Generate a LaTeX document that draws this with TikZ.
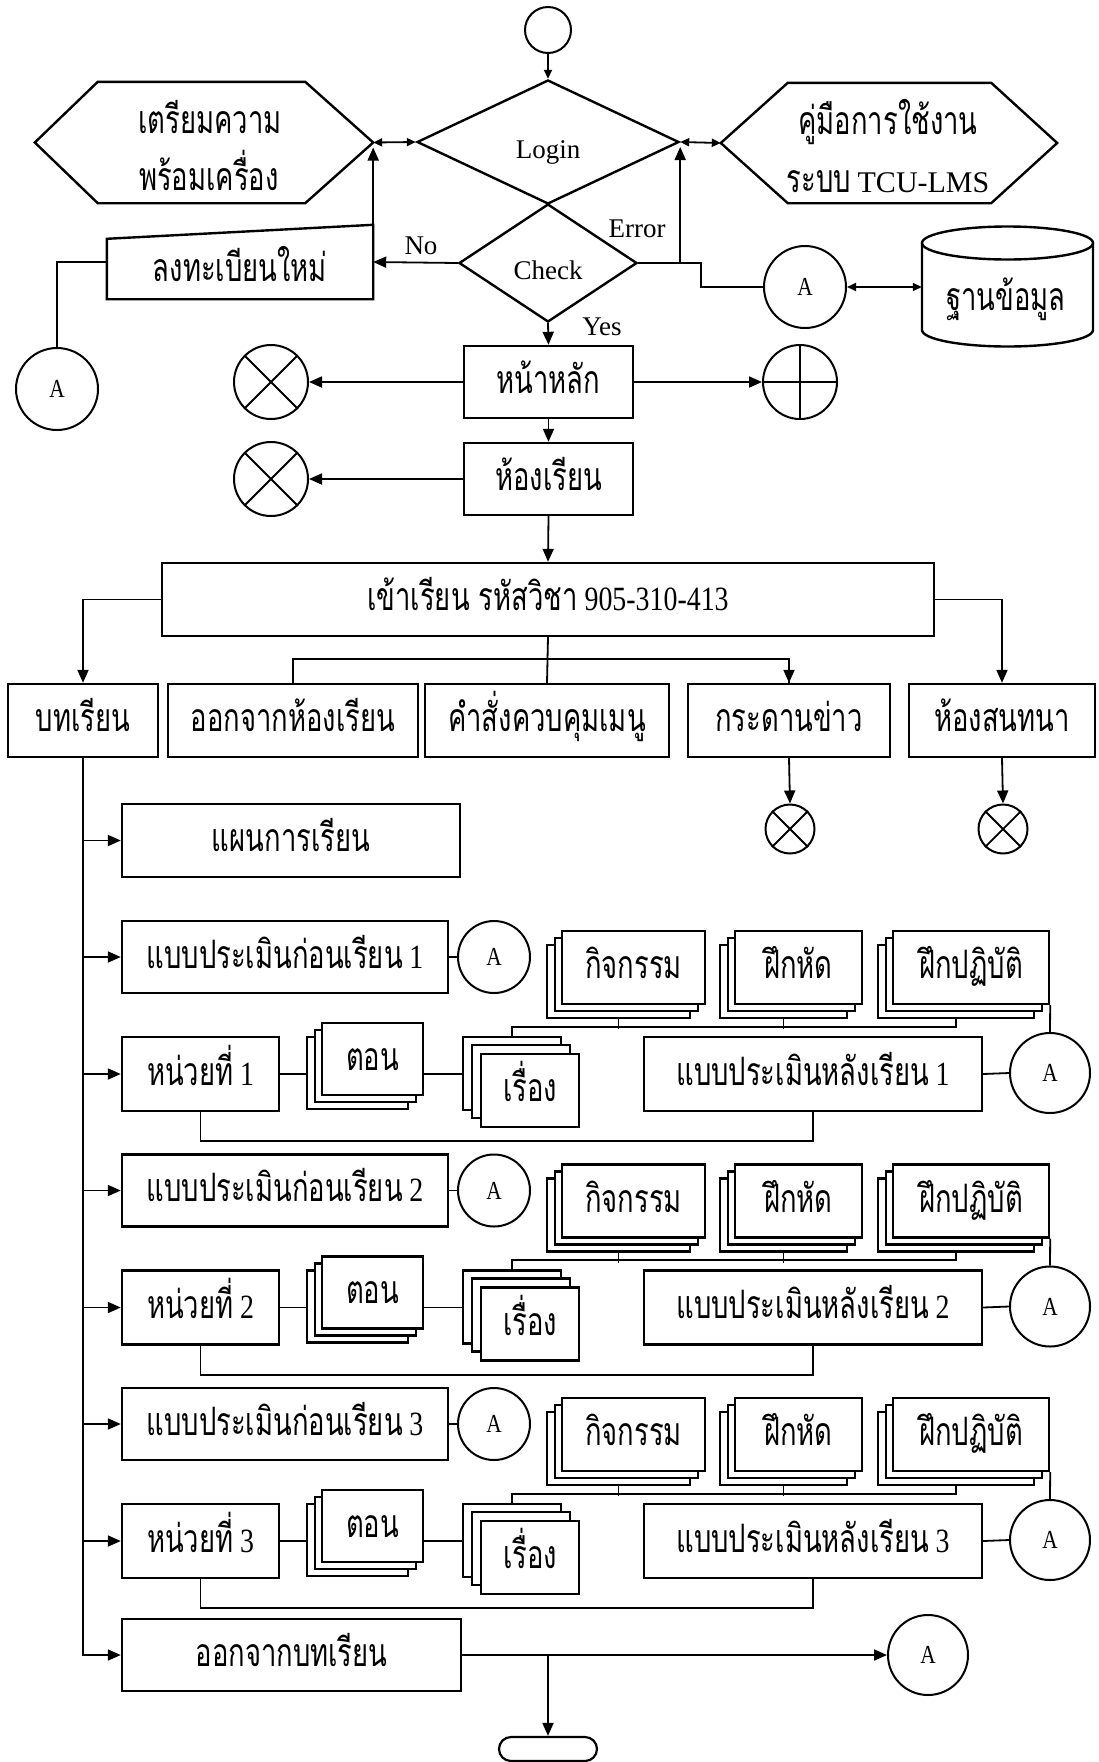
\documentclass[tikz,border=0pt]{standalone}
\usepackage{fontspec}
\setmainfont{Liberation Serif}
\newfontfamily\thai[Script=Thai,FakeStretch=0.7,Scale=1.45]{Loma}
\newfontfamily\numfam[FakeStretch=0.82]{Liberation Serif}
\usetikzlibrary{arrows.meta,shapes.geometric,calc}
\newcommand{\lblfont}{\fontsize{27}{32}\selectfont}
\newcommand{\circfont}{\fontsize{26}{30}\selectfont\numfam}
\newcommand{\dg}[1]{{\fontsize{34}{38}\selectfont\numfam #1}}
\begin{document}
\begin{tikzpicture}[x=1pt,y=-1pt,
  bx/.style={draw,line width=2.4pt,inner sep=0pt,font=\lblfont,text height=26pt,text depth=4pt},
  lay/.style={draw,line width=2.4pt,inner sep=0pt,fill=white},
  tx/.style={inner sep=0pt,font=\lblfont,text height=26pt,text depth=4pt},
  cn/.style={line width=1.8pt},
  ar/.style={cn,-{Triangle[length=13pt,width=11pt]}},
  sar/.style={cn,-{Triangle[length=9pt,width=8pt]}},
  dar/.style={cn,{Triangle[length=9pt,width=8pt]}-{Triangle[length=9pt,width=8pt]}},
  circ/.style={draw,circle,line width=2pt,inner sep=0pt,font=\circfont},
  ghost/.style={inner sep=0pt},
  shp/.style={line width=2.4pt},
  dia/.style={diamond,draw,line width=2.4pt,inner sep=0pt},
]
\useasboundingbox (0,0) rectangle (1098,1762);
\fill[white] (0,0) rectangle (1098,1762);

% ---------- top ----------
\node[circ,minimum size=46pt] (start) at (548,30) {};
\node[dia,minimum width=262pt,minimum height=124pt] (login) at (548,142) {};
\node[tx] (logint) at (548,147) {Login};
\node[dia,minimum width=178pt,minimum height=118pt] (check) at (548,263) {};
\node[tx] (checkt) at (548,268) {Check};
\draw[sar] (start) -- (login.north);

% left hexagon
\node[ghost,minimum width=338pt,minimum height=121pt] (prep) at (204,142.5) {};
\draw[shp] (prep.west) -- ([xshift=63pt]prep.north west) -- ([xshift=-68pt]prep.north east)
  -- (prep.east) -- ([xshift=-68pt]prep.south east) -- ([xshift=63pt]prep.south west) -- cycle;
\node[tx] (prep1) at (210,122) {\thai เตรียมความ};
\node[tx] (prep2) at (209,179) {\thai พร้อมเครื่อง};

% right hexagon
\node[ghost,minimum width=336pt,minimum height=120pt] (manual) at (889,143) {};
\draw[shp] (manual.west) -- ([xshift=67pt]manual.north west) -- ([xshift=-66pt]manual.north east)
  -- (manual.east) -- ([xshift=-66pt]manual.south east) -- ([xshift=67pt]manual.south west) -- cycle;
\node[tx] (man1) at (888,123) {\thai คู่มือการใช้งาน};
\node[tx] (man2) at (888,181) {{\thai ระบบ}\ {\fontsize{30}{34}\selectfont TCU-LMS}};

% register (manual input shape)
\node[ghost,minimum width=266pt,minimum height=74pt] (reg) at (240,262) {};
\draw[shp] (reg.south west) -- ([yshift=-14pt]reg.north west) -- (reg.north east) -- (reg.south east) -- cycle;
\node[tx] (regt) at (240,270) {\thai ลงทะเบียนใหม่};

% database
\node[ghost,minimum width=171pt,minimum height=120pt] (db) at (1007.5,287) {};
\draw[shp] (922,243) -- (922,330) arc[start angle=180,end angle=0,x radius=85.5,y radius=16.5] -- (1093,243);
\draw[shp] (1007.5,243) ellipse[x radius=85.5,y radius=16.5];
\node[tx] (dbt) at (1006,299) {\thai ฐานข้อมูล};

\node[circ,minimum size=82pt] (atop) at (805,287) {A};
\node[circ,minimum size=82pt] (aleft) at (57,389) {A};

\draw[dar] (prep.east) -- (login.west);
\draw[dar] (login.east) -- (manual.west);
\draw[ar] (reg.north east) -- ([yshift=-5pt]prep.east);
\draw[ar] (check.east -| login.east) -- ([yshift=-5pt]login.east);
\draw[ar] (check.west) -- (reg.east);
\draw[cn] (reg.west) -| (aleft.north);
\draw[cn] (check.east) -- ++(63,0) |- (atop.west);
\draw[dar] (atop.east) -- (db.west);
\node[tx] (nolbl) at (421,243) {No};
\node[tx] (errlbl) at (637,226) {Error};
\node[tx] (yeslbl) at (602,324) {Yes};

% ---------- main ----------
\node[bx,minimum width=169pt,minimum height=72pt] (main) at (548.5,382) {\thai หน้าหลัก};
\node[circ,minimum size=74pt] (xa) at (271,382) {};
\draw[cn] (xa.north west) -- (xa.south east) (xa.north east) -- (xa.south west);
\node[circ,minimum size=74pt] (plus) at (800,382) {};
\draw[cn] (plus.north) -- (plus.south) (plus.west) -- (plus.east);
\node[bx,minimum width=169pt,minimum height=72pt] (room) at (548.5,479) {\thai ห้องเรียน};
\node[circ,minimum size=74pt] (xb) at (271,479) {};
\draw[cn] (xb.north west) -- (xb.south east) (xb.north east) -- (xb.south west);

\draw[ar] (check.south) -- (main.north);
\draw[ar] (main.west) -- (xa.east);
\draw[ar] (main.east) -- (plus.west);
\draw[ar] (main.south) -- (room.north);
\draw[ar] (room.west) -- (xb.east);

\node[bx,minimum width=772pt,minimum height=73pt] (enter) at (548,599.5) {{\thai เข้าเรียน\ รหัสวิชา}\ \dg{905-310-413}};
\draw[ar] (room.south) -- (enter.north);

% row
\node[bx,minimum width=150pt,minimum height=73pt] (lesson) at (83,720.5) {\thai บทเรียน};
\node[bx,minimum width=250pt,minimum height=73pt] (exitroom) at (293,720.5) {\thai ออกจากห้องเรียน};
\node[bx,minimum width=244pt,minimum height=73pt] (menu) at (547,720.5) {\thai คำสั่งควบคุมเมนู};
\node[bx,minimum width=202pt,minimum height=73pt] (board) at (789,720.5) {\thai กระดานข่าว};
\node[bx,minimum width=186pt,minimum height=73pt] (chat) at (1002,720.5) {\thai ห้องสนทนา};

\draw[ar] (enter.west) -| (lesson.north);
\draw[ar] (enter.east) -| (chat.north);
\draw[cn] (enter.south) -- (menu.north);
\draw[cn] (exitroom.north) -- ++(0,-24) -| (board.north);
\draw[ar] (board.north |- 0,660) -- (board.north);

\node[circ,minimum size=49pt] (xc) at (790,829) {};
\draw[cn] (xc.north west) -- (xc.south east) (xc.north east) -- (xc.south west);
\node[circ,minimum size=49pt] (xd) at (1003,829) {};
\draw[cn] (xd.north west) -- (xd.south east) (xd.north east) -- (xd.south west);
\draw[ar] (board.south) -- (xc.north);
\draw[ar] (chat.south) -- (xd.north);

% ---------- lesson column ----------
\node[bx,minimum width=338pt,minimum height=73pt] (plan) at (291,840.5) {\thai แผนการเรียน};
\draw[ar] (lesson.south |- plan.west) -- (plan.west);

\foreach \k/\n in {0/1,1/2,2/3}{
  \pgfmathsetmacro{\dy}{233.5*\k}
  \node[bx,minimum width=326pt,minimum height=72pt] (pre\n) at (285,{957+\dy}) {{\thai แบบประเมินก่อนเรียน}\ \dg{\n}};
  \node[circ,minimum size=72pt] (apre\n) at (494,{957+\dy}) {A};
  \draw[cn] (pre\n.east) -- (apre\n.west);
  % activity stacks
  \node[lay,minimum width=143pt,minimum height=73pt] (act\n c) at ({633.5-15},{967.5+\dy+14}) {};
  \node[lay,minimum width=143pt,minimum height=73pt] (act\n b) at ({633.5-7},{967.5+\dy+7}) {};
  \node[bx,fill=white,minimum width=143pt,minimum height=73pt] (act\n) at (633.5,{967.5+\dy}) {\thai กิจกรรม};
  \node[lay,minimum width=127pt,minimum height=73pt] (ex\n c) at ({798.5-15},{967.5+\dy+14}) {};
  \node[lay,minimum width=127pt,minimum height=73pt] (ex\n b) at ({798.5-7},{967.5+\dy+7}) {};
  \node[bx,fill=white,minimum width=127pt,minimum height=73pt] (ex\n) at (798.5,{967.5+\dy}) {\thai ฝึกหัด};
  \node[lay,minimum width=156pt,minimum height=73pt] (prac\n c) at ({971-15},{967.5+\dy+14}) {};
  \node[lay,minimum width=156pt,minimum height=73pt] (prac\n b) at ({971-7},{967.5+\dy+7}) {};
  \node[bx,fill=white,minimum width=156pt,minimum height=73pt] (prac\n) at (971,{967.5+\dy}) {\thai ฝึกปฏิบัติ};
  % unit row
  \node[bx,minimum width=157pt,minimum height=74pt] (unit\n) at (200.5,{1074+\dy}) {{\thai หน่วยที่}\ \dg{\n}};
  \node[lay,minimum width=101pt,minimum height=72pt] (ep\n c) at ({372.5-15},{1059+\dy+14}) {};
  \node[lay,minimum width=101pt,minimum height=72pt] (ep\n b) at ({372.5-7},{1059+\dy+7}) {};
  \node[bx,fill=white,minimum width=101pt,minimum height=72pt] (ep\n) at (372.5,{1059+\dy}) {\thai ตอน};
  \node[lay,minimum width=98pt,minimum height=73pt] (story\n c) at ({530-18},{1090.5+\dy-17}) {};
  \node[lay,minimum width=98pt,minimum height=73pt] (story\n b) at ({530-9},{1090.5+\dy-9}) {};
  \node[bx,fill=white,minimum width=98pt,minimum height=73pt] (story\n) at (530,{1090.5+\dy}) {\thai เรื่อง};
  \node[bx,minimum width=338pt,minimum height=74pt] (post\n) at (813,{1074+\dy}) {{\thai แบบประเมินหลังเรียน}\ \dg{\n}};
  \node[circ,minimum size=80pt] (apost\n) at (1050,{1073+\dy}) {A};
  % connectors
  \draw[ar] (lesson.south |- pre\n.west) -- (pre\n.west);
  \draw[ar] (lesson.south |- unit\n.west) -- (unit\n.west);
  \draw[cn] (unit\n.east) -- (unit\n.east -| ep\n c.west);
  \draw[cn] (unit\n.east -| ep\n.east) -- (unit\n.east -| story\n c.west);
  \draw[cn] (post\n.east) -- (apost\n.west);
  \draw[cn] (prac\n.south east) -- (apost\n.north);
  \draw[cn] (story\n c.north) -- ++(0,-9) -| (prac\n c.south);
  \draw[cn] (act\n c.south) -- ++(0,10);
  \draw[cn] (ex\n c.south) -- ++(0,10);
  \draw[cn] (unit\n.south) -- ++(0,29) -| (post\n.south);
}

\node[bx,minimum width=339pt,minimum height=72pt] (exitl) at (291.5,1655) {\thai ออกจากบทเรียน};
\draw[ar] (lesson.south) |- (exitl.west);
\node[circ,minimum size=80pt] (aend) at (928,1655) {A};
\draw[ar] (exitl.east) -- (aend.west);
\node[draw,line width=2.2pt,rounded corners=12pt,minimum width=98pt,minimum height=24pt,inner sep=0pt] (stop) at (548,1749) {};
\draw[ar] (exitl.east -| stop.north) -- (stop.north);
\end{tikzpicture}
\end{document}
